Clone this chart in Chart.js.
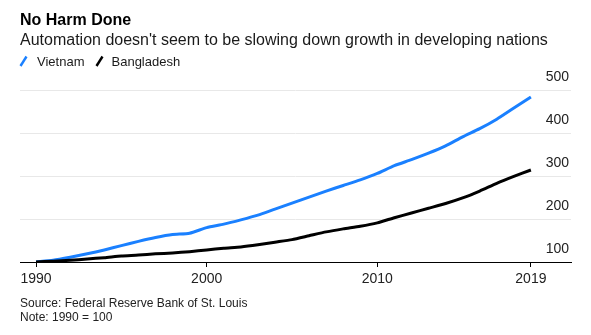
<!DOCTYPE html>
<html>
<head>
<meta charset="utf-8">
<script src="https://cdn.jsdelivr.net/npm/chart.js@4/dist/chart.umd.min.js"></script>
<style>
  html, body { margin: 0; padding: 0; background: #fff; }
  #wrap { position: relative; width: 591px; height: 335px; overflow: hidden; font-family: "Liberation Sans", Arial, sans-serif; }
  #chart { position: absolute; left: 0; top: 0; }
  .txt { position: absolute; white-space: nowrap; color: #111; }
  #title { left: 20px; top: 11.5px; font-size: 16px; line-height: 16px; font-weight: bold; color: #000; }
  #subtitle { left: 20px; top: 31.5px; font-size: 16px; line-height: 16px; color: #1a1a1a; }
  .leg { top: 55px; font-size: 13px; line-height: 13px; color: #1a1a1a; }
  .sw { position: absolute; top: 55px; }
  .foot { left: 20px; font-size: 12px; line-height: 12px; color: #222; }
</style>
</head>
<body>
<div id="wrap">
  <canvas id="chart" width="591" height="335"></canvas>
  <div class="txt" id="title">No Harm Done</div>
  <div class="txt" id="subtitle">Automation doesn't seem to be slowing down growth in developing nations</div>
  <svg class="sw" style="left:19px" width="9" height="12"><line x1="1.5" y1="11" x2="7.5" y2="1.5" stroke="#1a80ff" stroke-width="2.4" stroke-linecap="butt"/></svg>
  <div class="txt leg" style="left:37px">Vietnam</div>
  <svg class="sw" style="left:95px" width="9" height="12"><line x1="1.5" y1="11" x2="7.5" y2="1.5" stroke="#000" stroke-width="2.4" stroke-linecap="butt"/></svg>
  <div class="txt leg" style="left:111.5px">Bangladesh</div>
  <div class="txt foot" style="top:297px">Source: Federal Reserve Bank of St. Louis</div>
  <div class="txt foot" style="top:311px">Note: 1990 = 100</div>
</div>
<script>
// Index of real GDP per capita, 1990 = 100
const years = [1990, 1991, 1992, 1993, 1994, 1995, 1996, 1997, 1998, 1999,
               2000, 2001, 2002, 2003, 2004, 2005, 2006, 2007, 2008, 2009,
               2010, 2011, 2012, 2013, 2014, 2015, 2016, 2017, 2018, 2019];
const vietnam = [100, 104, 111, 119, 128, 138, 148, 157, 164, 167,
                 180, 188, 198, 209, 223, 237, 251, 265, 278, 291,
                 306, 324, 338, 353, 370, 391, 410, 432, 458, 484];
const bangladesh = [100, 102, 104, 107, 110, 114, 116, 119, 121, 124,
                    128, 132, 135, 140, 146, 152, 161, 170, 177, 183,
                    191, 203, 214, 225, 236, 249, 265, 283, 299, 314];
const xTickYears = [1990, 2000, 2010, 2019];
const yTickValues = [100, 200, 300, 400, 500];

const toPoints = vals => years.map((yr, i) => ({ x: yr, y: vals[i] }));

new Chart(document.getElementById('chart'), {
  type: 'line',
  data: {
    datasets: [
      { label: 'Vietnam', data: toPoints(vietnam), borderColor: '#1a80ff', borderWidth: 3, order: 1 },
      { label: 'Bangladesh', data: toPoints(bangladesh), borderColor: '#000000', borderWidth: 3, order: 0 }
    ]
  },
  options: {
    responsive: false,
    devicePixelRatio: 1,
    animation: false,
    events: [],
    layout: { padding: { left: 20, right: 20, top: 90, bottom: 43 } },
    elements: {
      point: { radius: 0 },
      line: { tension: 0.2, fill: false, borderCapStyle: 'butt', borderJoinStyle: 'round' }
    },
    plugins: { legend: { display: false }, tooltip: { enabled: false } },
    scales: {
      x: {
        type: 'linear',
        min: 1989.06,
        max: 2021.35,
        afterBuildTicks: s => { s.ticks = xTickYears.map(v => ({ value: v })); },
        afterFit: s => { s.height = 30; },
        border: { display: true, color: '#000', width: 1 },
        grid: { drawOnChartArea: false, drawTicks: true, tickLength: 5, color: '#000', lineWidth: 1 },
        ticks: {
          autoSkip: false, maxRotation: 0, padding: 4,
          color: '#222',
          font: { family: 'Liberation Sans', size: 14 },
          callback: v => String(v)
        }
      },
      y: {
        type: 'linear',
        position: 'right',
        min: 100,
        max: 500,
        afterBuildTicks: s => { s.ticks = yTickValues.map(v => ({ value: v })); },
        afterFit: s => { s.width = 0; },
        border: { display: false },
        grid: { drawTicks: false, color: '#e8e8e8', lineWidth: 1 },
        ticks: {
          mirror: true, padding: -2, labelOffset: -13,
          color: '#222',
          font: { family: 'Liberation Sans', size: 14 },
          callback: v => String(v)
        }
      }
    }
  }
});
</script>
</body>
</html>
